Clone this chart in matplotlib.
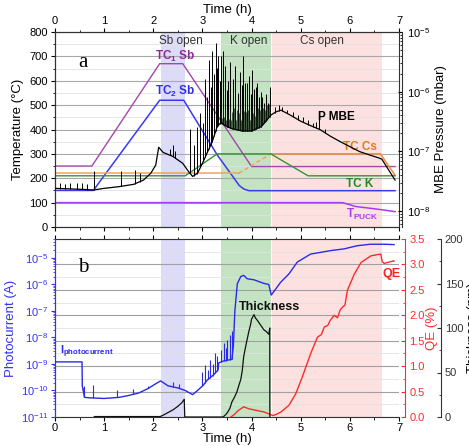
import numpy as np
import matplotlib
matplotlib.use('Agg')
import matplotlib.pyplot as plt
from matplotlib.ticker import MultipleLocator, LogLocator, NullFormatter, FormatStrFormatter

plt.rcParams['font.family'] = ['Liberation Sans', 'DejaVu Sans']
plt.rcParams['mathtext.fontset'] = 'custom'
plt.rcParams['mathtext.rm'] = 'Liberation Sans'
plt.rcParams['mathtext.bf'] = 'Liberation Sans:bold'
plt.rcParams['mathtext.it'] = 'Liberation Sans:italic'

# ---------------- data: panel a ----------------
regions = [("Sb open", 2.15, 2.65, '#dcdcf8'),
           ("K open", 3.37, 4.40, '#c3e3c3'),
           ("Cs open", 4.42, 6.65, '#fde1e1')]
region_label_x = [2.57, 3.94, 5.43]

tc1_t = [0, 0.75, 2.13, 2.60, 4.00, 6.92]
tc1_v = [250, 250, 670, 670, 248, 248]

tc2_t = [0, 0.78, 2.13, 2.62, 3.30, 3.60, 3.75, 3.85, 3.95, 6.92]
tc2_v = [150, 150, 520, 520, 296, 212, 170, 155, 149, 149]

tccs_t1 = [0, 3.74]
tccs_v1 = [220, 220]
tccs_t2 = [3.74, 4.39]
tccs_v2 = [220, 300]
tccs_t3 = [4.39, 6.62, 6.92]
tccs_v3 = [300, 300, 212]

tck_t = [0, 2.65, 3.30, 4.39, 5.15, 6.92]
tck_v = [210, 210, 300, 300, 210, 210]

tpuck_t = [0, 5.85, 6.12, 6.53, 6.92]
tpuck_v = [100, 100, 84, 74, 63]

# MBE pressure (mbar): smooth base
p_t = [0, 0.3, 0.6, 0.78, 1.0, 1.3, 1.6, 1.8, 1.95, 2.05, 2.11, 2.2, 2.4, 2.6, 2.7,
       2.8, 2.9, 3.0, 3.1, 3.2, 3.3, 3.37, 3.5, 3.6, 3.8, 4.0, 4.2, 4.4, 4.5, 4.6,
       4.8, 5.0, 5.2, 5.4, 5.6, 5.8, 6.0, 6.2, 6.4, 6.6, 6.65, 6.92]
p_v = [2.4e-8, 2.35e-8, 2.3e-8, 2.25e-8, 2.4e-8, 2.56e-8, 2.8e-8, 3.3e-8, 4.3e-8, 5.9e-8,
       1.17e-7, 9.6e-8, 8.2e-8, 6.3e-8, 4.8e-8, 3.8e-8, 4.3e-8, 6.3e-8, 9.6e-8, 1.45e-7,
       2.6e-7, 3.0e-7, 2.6e-7, 2.4e-7, 2.2e-7, 2.2e-7, 2.6e-7, 4.1e-7, 4.6e-7, 4.9e-7,
       4.0e-7, 3.2e-7, 2.7e-7, 2.3e-7, 1.8e-7, 1.46e-7, 1.2e-7, 9.9e-8, 8.7e-8, 7.7e-8,
       7.4e-8, 3.3e-8]

# pressure bursts (time, peak in mbar)
spk_t = [0.1, 0.2, 0.3, 0.45, 0.55, 0.65, 0.8, 1.35, 1.63, 1.72, 2.33, 2.40, 2.44,
         2.75, 2.82, 2.88, 2.96, 3.02, 3.06, 3.10, 3.13, 3.17, 3.20, 3.24, 3.27, 3.30,
         3.32, 3.35, 3.37, 3.41, 3.46, 3.50, 3.53, 3.57, 3.62, 3.67, 3.72, 3.76, 3.80,
         3.83, 3.87, 3.90, 3.94, 3.98, 4.01, 4.05, 4.08, 4.12, 4.15, 4.19, 4.22, 4.26,
         4.30, 4.34, 4.37, 4.47, 4.55, 4.62, 4.72, 4.85, 4.95, 5.05, 5.15, 5.25, 5.32,
         5.37, 5.5]
spk_v = [2.9e-8, 2.8e-8, 3.0e-8, 2.9e-8, 3.0e-8, 2.8e-8, 4.6e-8, 4.6e-8, 4.9e-8, 4.3e-8,
         1.09e-7, 1.28e-7, 1.0e-7, 2.4e-7, 1.3e-7, 2.6e-7, 4.4e-7, 3.0e-7, 1.6e-6, 8e-7,
         3.45e-6, 1.2e-6, 4.8e-6, 2.0e-6, 6.5e-6, 2.5e-6, 3.9e-6, 1.5e-6, 3.9e-6, 4.8e-6,
         2.7e-6, 1.08e-6, 1.5e-6, 3.1e-6, 1.6e-6, 2.7e-6, 9.6e-7, 2.1e-6, 1.3e-6, 3.9e-6,
         1.4e-6, 1.4e-6, 1.8e-6, 9e-7, 2.3e-6, 1.1e-6, 1.2e-6, 1.4e-6, 8e-7, 1.0e-6,
         8.3e-7, 6.5e-7, 9e-7, 6.5e-7, 1.2e-6, 5.5e-7, 6.0e-7, 5.6e-7, 5.0e-7, 4.6e-7,
         4.0e-7, 3.7e-7, 3.3e-7, 3.0e-7, 3.1e-7, 4.4e-7, 2.4e-7]

# dense fluctuations while K is open (time, peak in mbar)
noise_t = [3.38, 3.40, 3.42, 3.44, 3.46, 3.48, 3.50, 3.52, 3.54, 3.56, 3.58, 3.60, 3.62,
           3.64, 3.66, 3.68, 3.70, 3.72, 3.74, 3.76, 3.78, 3.80, 3.82, 3.84, 3.86, 3.88,
           3.90, 3.92, 3.94, 3.96, 3.98, 4.00, 4.02, 4.04, 4.06, 4.08, 4.10, 4.12, 4.14,
           4.16, 4.18, 4.20, 4.22, 4.24, 4.26, 4.28, 4.30, 4.32, 4.34, 4.36, 4.38]
noise_v = [4.5e-7, 3.6e-7, 5.2e-7, 3.8e-7, 4.8e-7, 3.4e-7, 5.5e-7, 4.0e-7, 3.5e-7, 5.0e-7,
           3.3e-7, 4.6e-7, 3.2e-7, 5.3e-7, 3.9e-7, 3.4e-7, 4.9e-7, 3.2e-7, 4.4e-7, 5.1e-7,
           3.3e-7, 4.3e-7, 3.1e-7, 4.7e-7, 3.5e-7, 4.5e-7, 3.2e-7, 5.0e-7, 3.6e-7, 3.4e-7,
           4.8e-7, 3.3e-7, 4.4e-7, 5.2e-7, 3.9e-7, 3.5e-7, 4.9e-7, 4.1e-7, 5.4e-7, 4.3e-7,
           4.9e-7, 5.6e-7, 4.5e-7, 5.3e-7, 5.8e-7, 4.9e-7, 5.7e-7, 6.0e-7, 5.4e-7, 6.2e-7,
           5.8e-7]

# ---------------- data: panel b ----------------
pc_t = [0, 0.55, 0.555, 0.6, 0.7, 1.0, 1.3, 1.5, 1.7, 1.9, 2.05, 2.15, 2.3, 2.5, 2.65,
        2.8, 2.9, 3.02, 3.1, 3.22, 3.32, 3.33, 3.43, 3.6, 3.63, 3.66, 3.71, 3.78, 3.84,
        3.91, 4.05, 4.25, 4.35, 4.40, 4.45, 4.59, 4.76, 4.93, 5.2, 5.61, 5.88, 6.15,
        6.42, 6.7, 6.9]
pc_v = [1.2e-9, 1.2e-9, 1.5e-10, 5.5e-11, 5.3e-11, 5.0e-11, 5.5e-11, 6.5e-11, 8e-11,
        1.2e-10, 1.8e-10, 2.3e-10, 1.5e-10, 1.25e-10, 1.0e-10, 7e-11, 1.0e-10, 1.6e-10,
        2.5e-10, 3.8e-10, 6e-10, 1.1e-9, 1.3e-9, 1.5e-9, 5e-9, 1e-7, 1.07e-6, 2.0e-6,
        2.2e-6, 1.65e-6, 1.5e-6, 1.1e-6, 1.0e-6, 4e-7, 5.3e-7, 1.2e-6, 2.5e-6, 7e-6,
        1.4e-5, 1.9e-5, 2.2e-5, 2.9e-5, 3.3e-5, 3.3e-5, 3.2e-5]
pc_spk_t = [0.57, 0.6, 0.77, 1.27, 1.58, 1.9, 2.4, 2.53, 2.99, 3.06, 3.12, 3.16, 3.21,
            3.26, 3.30, 3.38, 3.43, 3.47, 3.50, 3.56, 3.60]
pc_spk_v = [1.2e-10, 1.5e-10, 1.6e-10, 1.0e-10, 1.1e-10, 1.5e-10, 2.1e-10, 1.8e-10,
            5.1e-10, 9e-10, 6e-10, 1.4e-9, 1.0e-9, 2.6e-9, 2.0e-9, 3.5e-9, 6.3e-9,
            4e-9, 8e-9, 1.25e-8, 1.7e-8]

qe_t = [3.58, 3.65, 3.72, 3.84, 3.95, 4.1, 4.25, 4.33, 4.43, 4.5, 4.6, 4.76, 4.9, 5.03,
        5.2, 5.34, 5.42, 5.48, 5.55, 5.6, 5.68, 5.75, 5.8, 5.85, 5.9, 5.95, 6.09, 6.23,
        6.43, 6.6, 6.63, 6.66, 6.7, 6.77, 6.9]
qe_v = [0, 0.05, 0.12, 0.2, 0.16, 0.13, 0.1, 0.07, 0.03, 0.05, 0.1, 0.23, 0.46, 0.78,
        1.24, 1.57, 1.62, 1.77, 1.80, 1.90, 2.0, 1.95, 2.1, 2.16, 2.2, 2.49, 2.81, 3.04,
        3.17, 3.2, 3.2, 3.05, 3.02, 3.04, 3.07]

th_t = [0.8, 2.14, 2.2, 2.3, 2.4, 2.5, 2.58, 2.63, 2.64, 3.42, 3.48, 3.52, 3.56, 3.6,
        3.65, 3.7, 3.75, 3.78, 3.81, 3.84, 3.89, 3.94, 3.98, 4.0, 4.03, 4.05, 4.08,
        4.1, 4.15, 4.2, 4.25, 4.3, 4.35, 4.37, 4.372]
th_v = [0.5, 0.5, 2, 5, 8, 12, 16, 20, 0, 0, 3, 6, 10, 17, 22, 28, 37, 42, 52, 68,
        82, 95, 104, 110, 113, 115, 111, 110, 106, 102, 98, 96, 93, 100, 0]

time_ticks = [0, 1, 2, 3, 4, 5, 6, 7]

# ---------------- figure ----------------
W, H = 469, 446
fig = plt.figure(figsize=(W / 100, H / 100), dpi=100)
fs_tick = 8
fs_lab = 9.5
RED = '#ff2a2a'
BLUE = '#3333ee'

ax1 = fig.add_axes([55 / W, 1 - 227 / H, 344 / W, 195 / H])
ax1p = ax1.twinx()

for name, a, b, c in regions:
    ax1.axvspan(a, b, color=c, zorder=0, lw=0)
ax1.set_axisbelow(True)
ax1.set_xlim(0, 7)
ax1.set_ylim(0, 800)
ax1.yaxis.set_major_locator(MultipleLocator(100))
ax1.yaxis.set_minor_locator(MultipleLocator(50))
ax1.set_xticks(time_ticks)
ax1.xaxis.set_minor_locator(MultipleLocator(0.5))
ax1.grid(True, which='major', axis='y', color='#a8a8a8', lw=0.8)
ax1.grid(True, which='minor', axis='y', color='#e2e2e2', lw=0.6)
ax1.tick_params(axis='x', which='both', top=True, bottom=True, labeltop=True,
                labelbottom=False, direction='out', labelsize=fs_tick, pad=1.5)
ax1.tick_params(axis='y', which='both', direction='out', labelsize=fs_tick, pad=2)
ax1.tick_params(which='major', length=3)
ax1.tick_params(which='minor', length=1.8)
ax1.xaxis.set_label_position('top')
ax1.set_xlabel('Time (h)', fontsize=fs_lab, labelpad=2)
ax1.set_ylabel('Temperature (°C)', fontsize=fs_lab, labelpad=4)

ax1.plot(tc1_t, tc1_v, color='#a347a8', lw=1.0, zorder=3)
ax1.plot(tc2_t, tc2_v, color='#3a3af0', lw=1.1, zorder=3)
ax1.plot(tccs_t1, tccs_v1, color='#f5a257', lw=1.1, zorder=3)
ax1.plot(tccs_t2, tccs_v2, color='#f0a050', lw=1.0, ls=(0, (3, 2)), zorder=3)
ax1.plot(tccs_t3, tccs_v3, color='#ee8a3a', lw=1.1, zorder=3)
ax1.plot(tck_t, tck_v, color='#2f962f', lw=1.0, zorder=3)
ax1.plot(tpuck_t, tpuck_v, color='#a83cf5', lw=1.1, zorder=3)

for (name, a, b, c), lx in zip(regions, region_label_x):
    ax1.text(lx, 765, name, ha='center', va='center', fontsize=8.5, color='#333333')

ax1.text(2.45, 700, r'TC$_\mathbf{1}$ Sb', color='#902a96', fontsize=8.5,
         fontweight='bold', ha='center', va='center')
ax1.text(2.45, 557, r'TC$_\mathbf{2}$ Sb', color='#2e2ef0', fontsize=8.5,
         fontweight='bold', ha='center', va='center')
ax1.text(6.2, 330, 'TC Cs', color='#e07a22', fontsize=8.5, fontweight='bold',
         ha='center', va='center')
ax1.text(6.19, 177, 'TC K', color='#1f8a1f', fontsize=8.5, fontweight='bold',
         ha='center', va='center')
ax1.text(6.25, 50, r'T$_\mathbf{PUCK}$', color='#a83cf5', fontsize=8.5,
         fontweight='bold', ha='center', va='center')
ax1.text(5.72, 452, 'P MBE', color='black', fontsize=8.5, fontweight='bold',
         ha='center', va='center')
ax1.text(0.57, 675, 'a', family='Liberation Serif', fontsize=15, ha='center', va='center')

ax1p.set_yscale('log')
ax1p.set_ylim(5.4e-9, 1e-5)
ax1p.spines['right'].set_position(('outward', 2))
ax1p.yaxis.set_major_locator(LogLocator(base=10, numticks=10))
ax1p.yaxis.set_minor_locator(LogLocator(base=10, subs=np.arange(2, 10), numticks=20))
ax1p.yaxis.set_minor_formatter(NullFormatter())
ax1p.tick_params(axis='y', which='both', direction='in', labelsize=fs_tick, pad=4)
ax1p.tick_params(which='major', length=3)
ax1p.tick_params(which='minor', length=1.8)
ax1p.set_ylabel('MBE Pressure (mbar)', fontsize=fs_lab, labelpad=3)

base_log_spk = np.interp(spk_t, p_t, np.log10(p_v))
ax1p.vlines(spk_t, 10 ** base_log_spk, spk_v, color='black', lw=0.7, zorder=3)
base_log_noise = np.interp(noise_t, p_t, np.log10(p_v))
ax1p.vlines(noise_t, 10 ** base_log_noise, noise_v, color='#102010', lw=0.5, zorder=3)
ax1p.plot(p_t, p_v, color='black', lw=0.9, zorder=4)

for sp in list(ax1.spines.values()) + list(ax1p.spines.values()):
    sp.set_color('#333333')

# ---------------- panel b ----------------
axq = fig.add_axes([55 / W, 1 - 417 / H, 344 / W, 178 / H])
axi = axq.twinx()
axt = axq.twinx()

for name, a, b, c in regions:
    axq.axvspan(a, b, color=c, zorder=0, lw=0)
axq.set_axisbelow(True)
axq.set_xlim(0, 7)
axq.set_ylim(0, 3.5)
axq.set_xticks(time_ticks)
axq.xaxis.set_minor_locator(MultipleLocator(0.5))
axq.yaxis.set_major_locator(MultipleLocator(0.5))
axq.yaxis.set_minor_locator(MultipleLocator(0.25))
axq.yaxis.set_major_formatter(FormatStrFormatter('%.1f'))
axq.yaxis.tick_right()
axq.yaxis.set_label_position('right')
axq.spines['right'].set_position(('outward', 4.5))
axq.grid(True, which='major', axis='y', color='#a0a0a0', lw=0.8)
axq.grid(True, which='minor', axis='y', color='#e2e2e2', lw=0.6)
axq.tick_params(axis='x', which='both', top=True, bottom=True, labelbottom=True,
                direction='out', labelsize=fs_tick, pad=1.5)
axq.tick_params(axis='y', which='both', left=False, right=True, labelleft=False,
                labelright=True, direction='in', colors=RED, labelsize=fs_tick, pad=3)
axq.tick_params(which='major', length=3)
axq.tick_params(which='minor', length=1.8)
axq.set_xlabel('Time (h)', fontsize=fs_lab, labelpad=0)
axq.set_ylabel('QE (%)', fontsize=fs_lab, color=RED, labelpad=1)
axq.spines['right'].set_color(RED)
axq.spines['left'].set_color(BLUE)
axq.spines['top'].set_color('#333333')
axq.spines['bottom'].set_color('#333333')
axq.plot(qe_t, qe_v, color=RED, lw=1.0, zorder=3)
axq.text(6.84, 2.82, 'QE', color='#ff2020', fontsize=9, fontweight='bold',
         ha='center', va='center')

axi.yaxis.tick_left()
axi.yaxis.set_label_position('left')
axi.set_yscale('log')
axi.set_ylim(1e-11, 5.2e-5)
axi.yaxis.set_major_locator(LogLocator(base=10, numticks=10))
axi.yaxis.set_minor_locator(LogLocator(base=10, subs=np.arange(2, 10), numticks=20))
axi.yaxis.set_minor_formatter(NullFormatter())
axi.tick_params(axis='y', which='both', direction='out', colors=BLUE,
                labelsize=fs_tick, pad=2)
axi.tick_params(which='major', length=3)
axi.tick_params(which='minor', length=1.8)
axi.set_ylabel('Photocurrent (A)', fontsize=fs_lab, color=BLUE, labelpad=3)
for k in ['top', 'bottom', 'right']:
    axi.spines[k].set_visible(False)
axi.spines['left'].set_color(BLUE)
pc_base = np.interp(pc_spk_t, pc_t, np.log10(pc_v))
axi.vlines(pc_spk_t, 10 ** pc_base, pc_spk_v, color='#2a2ae8', lw=0.8, zorder=3)
axi.plot(pc_t, pc_v, color='#2a2ae8', lw=1.0, zorder=4)
axi.text(0.1, 2.9e-9, r'I$_\mathbf{photocurrent}$', color='#2a2ae8', fontsize=8,
         fontweight='bold', ha='left', va='center')
axi.text(0.57, 4.2e-6, 'b', family='Liberation Serif', fontsize=15, ha='center', va='center')

axt.set_ylim(0, 200)
axt.spines['right'].set_position(('outward', 30))
axt.yaxis.set_major_locator(MultipleLocator(50))
axt.yaxis.set_minor_locator(MultipleLocator(25))
axt.tick_params(axis='y', which='both', direction='in', colors='#333333',
                labelsize=fs_tick, pad=3)
axt.tick_params(which='major', length=3)
axt.tick_params(which='minor', length=1.8)
for k in ['top', 'bottom', 'left']:
    axt.spines[k].set_visible(False)
axt.spines['right'].set_color('#333333')
axt.set_ylabel('Thickness (nm)', fontsize=fs_lab, labelpad=3)
axt.plot(th_t, th_v, color='#111111', lw=0.9, zorder=3)
axt.text(4.37, 124, 'Thickness', color='#111111', fontsize=9, fontweight='bold',
         ha='center', va='center')

fig.savefig('out.png', dpi=100)
